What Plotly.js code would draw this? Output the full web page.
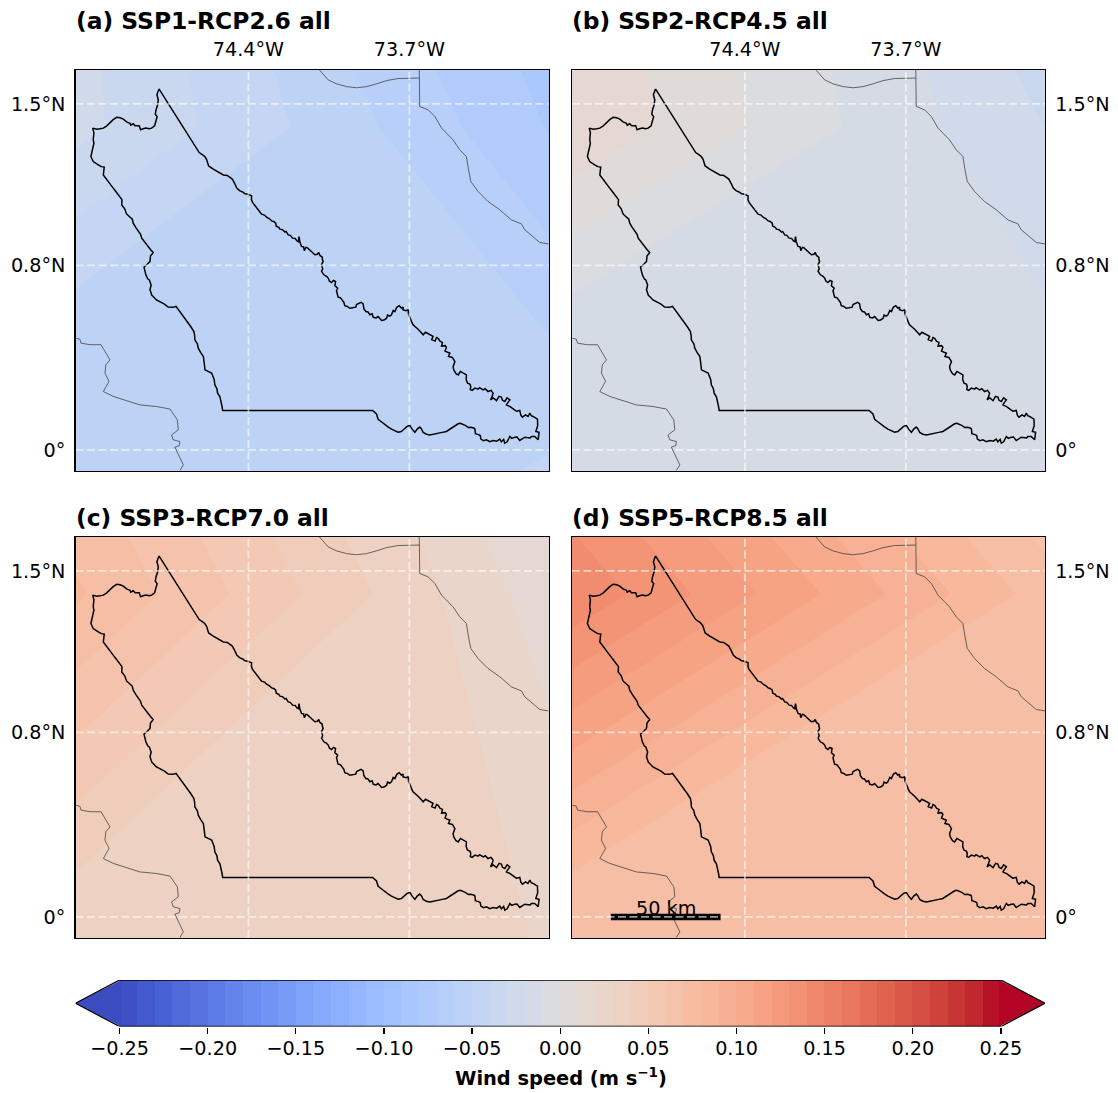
<!DOCTYPE html>
<html>
<head>
<meta charset="utf-8">
<script src="https://cdn.plot.ly/plotly-3.0.1.min.js"></script>
<style>html,body{margin:0;padding:0;background:#fff}#chart{width:1118px;height:1093px}</style>
</head>
<body>
<div id="chart"></div>
<script>
// ---- data ----
const panelTitles = ["(a) SSP1-RCP2.6 all","(b) SSP2-RCP4.5 all","(c) SSP3-RCP7.0 all","(d) SSP5-RCP8.5 all"];

const lonsA = [-75.25,-74.0,-73.09];
const latsA = [-0.2,0.45,1.4,2.4];
const windA = [[-0.0565,-0.0565,-0.0464],[-0.0557,-0.0557,-0.0591],[-0.0244,-0.0554,-0.0807],[-0.0244,-0.0674,-0.0912]];

const lonsB = [-75.25,-73.8,-73.09];
const latsB = [-0.2,0.5,1.4,2.4];
const windB = [[-0.015,-0.015,-0.0165],[-0.0145,-0.0145,-0.0178],[0.0211,-0.0143,-0.0302],[0.019,-0.02,-0.06]];

const lonsC = [-75.25,-73.75,-73.0];
const latsC = [-0.2,0,1.4,2.4];
const windC = [[0.036,0.0375,0.0282],[0.0365,0.0373,0.0274],[0.0847,0.0365,0.0109],[0.0679,0.0215,-0.002]];

const lonsD = [-75.25,-73.0];
const latsD = [-0.2,0,1.4,2.4];
const windD = [[0.072,0.071],[0.0724,0.0715],[0.1519,0.0721],[0.121,0.041]];

const outlinePoints = [
[-74.789,1.565],[-74.614,1.289],[-74.599,1.279],[-74.590,1.272],[-74.582,1.260],[-74.573,1.231],[-74.553,1.217],[-74.531,1.204],[-74.520,1.195],[-74.509,1.192],[-74.492,1.190],[-74.480,1.182],[-74.470,1.174],[-74.459,1.153],
[-74.450,1.134],[-74.437,1.123],[-74.425,1.118],[-74.415,1.110],[-74.400,1.108],[-74.386,1.101],[-74.387,1.085],[-74.382,1.073],[-74.372,1.060],[-74.365,1.048],[-74.356,1.040],[-74.349,1.027],[-74.343,1.022],[-74.330,1.018],[-74.321,1.009],[-74.310,1.003],[-74.299,0.993],[-74.290,0.990],[-74.281,0.983],[-74.279,0.970],[-74.268,0.965],[-74.263,0.957],[-74.252,0.955],[-74.241,0.944],[-74.236,0.947],[-74.227,0.932],[-74.218,0.930],[-74.208,0.918],[-74.197,0.917],[-74.188,0.905],[-74.183,0.903],[-74.180,0.925],[-74.176,0.900],[-74.169,0.882],[-74.160,0.880],[-74.157,0.864],[-74.150,0.878],[-74.144,0.877],[-74.135,0.868],[-74.125,0.860],[-74.118,0.852],[-74.111,0.846],[-74.100,0.848],[-74.094,0.856],[-74.089,0.843],[-74.079,0.836],[-74.078,0.825],[-74.075,0.817],[-74.082,0.803],[-74.077,0.785],[-74.082,0.775],[-74.072,0.759],[-74.060,0.752],[-74.053,0.745],[-74.048,0.732],[-74.039,0.726],[-74.030,0.735],[-74.021,0.730],[-74.024,0.712],[-74.012,0.701],[-74.017,0.690],[-74.010,0.662],[-74.000,0.660],[-73.992,0.648],[-73.985,0.640],[-73.981,0.625],[-73.970,0.622],[-73.959,0.614],[-73.945,0.618],[-73.933,0.619],[-73.930,0.630],[-73.921,0.636],[-73.910,0.640],[-73.901,0.633],[-73.898,0.612],[-73.889,0.600],[-73.880,0.598],[-73.872,0.586],[-73.862,0.590],[-73.857,0.575],[-73.845,0.572],[-73.836,0.578],[-73.828,0.568],[-73.821,0.561],[-73.810,0.563],[-73.799,0.571],[-73.795,0.585],[-73.785,0.580],[-73.778,0.586],[-73.770,0.605],[-73.763,0.600],[-73.755,0.618],[-73.744,0.625],[-73.735,0.615],[-73.727,0.619],[-73.728,0.608],[-73.715,0.603],[-73.705,0.607],[-73.704,0.590],[-73.698,0.571],[-73.690,0.555],[-73.684,0.542],[-73.672,0.533],[-73.662,0.523],[-73.650,0.510],[-73.640,0.499],[-73.630,0.510],[-73.621,0.506],[-73.610,0.500],[-73.597,0.492],[-73.603,0.478],[-73.588,0.472],[-73.582,0.487],[-73.575,0.484],[-73.566,0.470],[-73.556,0.466],[-73.560,0.450],[-73.545,0.452],[-73.539,0.445],[-73.545,0.428],[-73.524,0.419],[-73.530,0.405],[-73.513,0.401],[-73.507,0.388],[-73.502,0.383],[-73.510,0.360],[-73.507,0.347],[-73.497,0.330],[-73.488,0.325],[-73.478,0.340],[-73.469,0.336],[-73.458,0.328],[-73.452,0.325],[-73.453,0.305],[-73.447,0.289],[-73.437,0.285],[-73.433,0.275],[-73.435,0.262],[-73.427,0.258],[-73.415,0.268],[-73.401,0.263],[-73.395,0.270],[-73.379,0.260],[-73.370,0.265],[-73.358,0.253],[-73.345,0.258],[-73.336,0.246],[-73.340,0.232],[-73.347,0.217],[-73.335,0.225],[-73.321,0.214],[-73.310,0.232],[-73.300,0.229],[-73.295,0.215],[-73.285,0.210],[-73.275,0.226],[-73.263,0.217],[-73.272,0.205],[-73.278,0.195],[-73.262,0.188],[-73.249,0.177],[-73.235,0.168],[-73.220,0.171],[-73.215,0.150],[-73.208,0.142],[-73.195,0.152],[-73.184,0.145],[-73.176,0.159],[-73.170,0.148],[-73.162,0.145],[-73.143,0.133],
[-73.142,0.105],[-73.150,0.080],[-73.136,0.076],[-73.140,0.044],[-73.155,0.058],[-73.169,0.058],[-73.175,0.052],[-73.198,0.055],[-73.208,0.050],[-73.220,0.041],[-73.232,0.056],[-73.242,0.055],[-73.255,0.050],[-73.263,0.058],[-73.275,0.035],[-73.285,0.029],[-73.290,0.045],[-73.300,0.035],[-73.307,0.047],[-73.320,0.038],[-73.336,0.041],[-73.350,0.036],[-73.365,0.044],[-73.378,0.040],[-73.389,0.047],[-73.392,0.062],[-73.397,0.065],[-73.413,0.070],[-73.415,0.090],[-73.418,0.094],[-73.432,0.098],[-73.444,0.097],[-73.455,0.105],[-73.466,0.109],[-73.478,0.115],[-73.488,0.113],[-73.500,0.106],[-73.510,0.099],[-73.525,0.088],[-73.539,0.080],[-73.557,0.076],[-73.575,0.073],[-73.593,0.070],[-73.611,0.065],[-73.626,0.068],[-73.640,0.076],[-73.648,0.092],[-73.655,0.099],[-73.666,0.090],[-73.676,0.076],[-73.688,0.090],[-73.698,0.106],[-73.710,0.102],[-73.720,0.094],[-73.735,0.080],[-73.749,0.077],[-73.765,0.083],[-73.778,0.090],[-73.793,0.100],[-73.807,0.109],[-73.822,0.122],[-73.836,0.133],[-73.843,0.156],[-73.860,0.171],
[-74.512,0.171],[-74.515,0.190],[-74.521,0.217],[-74.524,0.230],[-74.534,0.246],[-74.537,0.265],[-74.546,0.282],[-74.549,0.305],[-74.560,0.333],[-74.575,0.340],[-74.589,0.347],[-74.592,0.375],[-74.596,0.405],[-74.608,0.423],[-74.618,0.441],[-74.622,0.460],[-74.633,0.477],[-74.634,0.497],[-74.637,0.513],[-74.651,0.535],[-74.676,0.571],[-74.715,0.622],[-74.730,0.618],[-74.749,0.619],[-74.765,0.632],[-74.785,0.643],[-74.800,0.650],[-74.814,0.665],[-74.820,0.670],[-74.828,0.694],[-74.823,0.715],[-74.831,0.737],[-74.838,0.742],[-74.846,0.759],[-74.854,0.792],[-74.840,0.805],[-74.828,0.817],[-74.826,0.840],[-74.814,0.856],[-74.825,0.868],[-74.835,0.882],[-74.851,0.900],[-74.864,0.918],[-74.869,0.935],[-74.879,0.947],[-74.890,0.965],[-74.901,0.983],[-74.905,1.000],[-74.918,1.012],[-74.930,1.023],[-74.938,1.045],[-74.951,1.062],[-74.950,1.085],[-74.959,1.099],[-74.975,1.118],[-74.988,1.135],[-75.002,1.155],[-75.017,1.174],[-75.031,1.192],[-75.027,1.226],[-75.040,1.228],[-75.053,1.236],[-75.065,1.243],[-75.075,1.250],[-75.085,1.272],[-75.080,1.290],[-75.077,1.312],[-75.072,1.330],[-75.075,1.345],[-75.072,1.375],[-75.077,1.395],[-75.060,1.390],[-75.045,1.392],[-75.031,1.395],[-75.016,1.405],[-75.002,1.419],[-74.988,1.432],[-74.973,1.442],[-74.958,1.440],[-74.944,1.434],[-74.930,1.422],[-74.915,1.416],[-74.912,1.408],[-74.901,1.414],[-74.893,1.405],[-74.875,1.405],[-74.869,1.388],[-74.858,1.392],[-74.846,1.395],[-74.832,1.392],[-74.821,1.395],[-74.808,1.405],[-74.802,1.424],[-74.797,1.445],[-74.805,1.455],[-74.802,1.474],[-74.795,1.495],[-74.792,1.518],[-74.798,1.540],[-74.789,1.565]];

const borderNorthLon = [-74.092,-74.053,-74.017,-73.973,-73.930,-73.886,-73.843,-73.799,-73.749,-73.657];
const borderNorthLat = [1.648,1.604,1.587,1.575,1.570,1.575,1.587,1.601,1.610,1.612];
const borderEastLon = [-73.657,-73.655,-73.618,-73.589,-73.560,-73.539,-73.510,-73.481,-73.452,-73.444,-73.433,-73.401,-73.358,-73.307,-73.256,-73.213,-73.198,-73.155,-73.133,-73.095];
const borderEastLat = [1.648,1.489,1.474,1.445,1.395,1.373,1.344,1.301,1.272,1.221,1.164,1.120,1.077,1.041,0.997,0.980,0.954,0.918,0.899,0.893];
const borderWestLon = [-75.150,-75.133,-75.128,-75.089,-75.041,-75.024,-75.002,-75.020,-75.024,-75.006,-75.031,-74.988,-74.930,-74.872,-74.799,-74.741,-74.709,-74.705,-74.734,-74.727,-74.698,-74.701,-74.720,-74.705,-74.683,-74.698];
const borderWestLat = [0.484,0.480,0.463,0.456,0.456,0.427,0.390,0.369,0.333,0.297,0.253,0.232,0.214,0.195,0.188,0.177,0.130,0.087,0.065,0.044,0.036,0.018,0.012,-0.021,-0.065,-0.089];

const gridLons = [-74.4,-73.7];
const gridLonLabels = ["74.4°W","73.7°W"];
const gridLats = [0,0.8,1.5];
const gridLatLabels = ["0°","0.8°N","1.5°N"];
const lonRange = [-75.152,-73.095];
const latRange = [-0.0915,1.647];
const scaleBarLon = [-74.983,-74.506];
const scaleBarLat = [0,0];
const scaleBarLabel = "50 km";

const cbMids = [-0.245,-0.235,-0.225,-0.215,-0.205,-0.195,-0.185,-0.175,-0.165,-0.155,-0.145,-0.135,-0.125,-0.115,-0.105,-0.095,-0.085,-0.075,-0.065,-0.055,-0.045,-0.035,-0.025,-0.015,-0.005,0.005,0.015,0.025,0.035,0.045,0.055,0.065,0.075,0.085,0.095,0.105,0.115,0.125,0.135,0.145,0.155,0.165,0.175,0.185,0.195,0.205,0.215,0.225,0.235,0.245];
const cbTicks = [-0.25,-0.2,-0.15,-0.1,-0.05,0,0.05,0.1,0.15,0.2,0.25];
const cbTitle = "<b>Wind speed (m s<sup>−1</sup>)</b>";
const vMin = -0.25, vMax = 0.25, vStep = 0.01, extendTip = 0.275;

const coolwarmHex = ["#3b4cc0","#445acc","#4d68d7","#5775e1","#6282ea","#6c8ef1","#779af7","#82a5fb","#8db0fe","#98b9ff","#a3c2ff","#aec9fd","#b8d0f9","#c2d5f4","#ccd9ee","#d5dbe6","#dddddd","#e5d8d1","#ecd3c5","#f1ccb9","#f5c4ad","#f7bba0","#f7b194","#f7a687","#f49a7b","#f18d6f","#ec7f63","#e57058","#de604d","#d55042","#cb3e38","#c0282f","#b40426"];
const coolwarm = coolwarmHex.map((c,i)=>[i/(coolwarmHex.length-1),c]);

// ---- figure ----
const W = 1118, H = 1093, FONT = "DejaVu Sans", TICK = 19.2;
const xDom = a => [a[0]/W, a[1]/W];
const yDom = a => [1-a[1]/H, 1-a[0]/H];
const colsPx = [[75.5,548.5],[572,1045]];
const rowsPx = [[70,471],[537,938]];
const titleY = [21,518];
const frame = {showline:true, mirror:true, linecolor:"#000", linewidth:1.3, zeroline:false, showgrid:false,
  ticks:"outside", tickcolor:"rgba(0,0,0,0)", tickfont:{family:FONT,size:TICK,color:"#000"}};

const layout = {width:W, height:H, margin:{l:0,r:0,t:0,b:0}, paper_bgcolor:"#fff", plot_bgcolor:"#fff",
  showlegend:false, font:{family:FONT,color:"#000"}, annotations:[]};
const traces = [];
const fields = [[lonsA,latsA,windA],[lonsB,latsB,windB],[lonsC,latsC,windC],[lonsD,latsD,windD]];
const outlineLon = outlinePoints.map(p=>p[0]), outlineLat = outlinePoints.map(p=>p[1]);

fields.forEach((f,i)=>{
  const n = i+1, col = i%2, row = i<2?0:1;
  const xa = n===1?"x":"x"+n, ya = n===1?"y":"y"+n;
  layout["xaxis"+n] = Object.assign({}, frame, {domain:xDom(colsPx[col]), range:lonRange, anchor:ya, side:"top",
    tickvals:gridLons, ticktext:gridLonLabels, showticklabels:row===0, ticklen:row===0?5:0});
  layout["yaxis"+n] = Object.assign({}, frame, {domain:yDom(rowsPx[row]), range:latRange, anchor:xa, side:col===0?"left":"right",
    tickvals:gridLats, ticktext:gridLatLabels, ticklen:5});
  traces.push({type:"contour", x:f[0], y:f[1], z:f[2], xaxis:xa, yaxis:ya, colorscale:coolwarm, showscale:false,
    autocontour:false, contours:{start:vMin,end:vMax,size:vStep,coloring:"fill",showlines:false},
    line:{width:0,smoothing:0}, hoverinfo:"skip"});
  [[borderNorthLon,borderNorthLat],[borderEastLon,borderEastLat],[borderWestLon,borderWestLat]].forEach(b=>{
    traces.push({type:"scatter",mode:"lines",x:b[0],y:b[1],xaxis:xa,yaxis:ya,line:{color:"#444",width:0.8},hoverinfo:"skip"});
  });
  traces.push({type:"scatter",mode:"lines",x:outlineLon,y:outlineLat,xaxis:xa,yaxis:ya,line:{color:"#000",width:1.5},hoverinfo:"skip"});
  if(n===4){
    traces.push({type:"scatter",mode:"lines",x:scaleBarLon,y:scaleBarLat,xaxis:xa,yaxis:ya,line:{color:"#000",width:6.5},hoverinfo:"skip"});
    layout.annotations.push({xref:xa,yref:ya,x:(scaleBarLon[0]+scaleBarLon[1])/2,y:scaleBarLat[0],yshift:-5,text:scaleBarLabel,showarrow:false,
      xanchor:"center",yanchor:"bottom",font:{family:FONT,size:TICK,color:"#000"}});
  }
  const gx=[],gy=[];
  gridLons.forEach(v=>{gx.push(v,v,null);gy.push(latRange[0],latRange[1],null);});
  gridLats.forEach(v=>{gx.push(lonRange[0],lonRange[1],null);gy.push(v,v,null);});
  traces.push({type:"scatter",mode:"lines",x:gx,y:gy,xaxis:xa,yaxis:ya,line:{color:"rgba(255,255,255,0.6)",width:1.8,dash:"8px,3.5px"},hoverinfo:"skip"});
  layout.annotations.push({xref:"paper",yref:"paper",x:colsPx[col][0]/W,y:1-titleY[row]/H,text:"<b>"+panelTitles[i]+"</b>",showarrow:false,
    xanchor:"left",yanchor:"middle",xshift:-2,font:{family:FONT,size:23.4,color:"#000"}});
});

// colour bar
layout.xaxis5 = {domain:xDom([75.5,1045]), range:[-extendTip,extendTip], anchor:"y5", showgrid:false, zeroline:false, showline:false,
  tickvals:cbTicks, tickformat:".2f", ticks:"outside", ticklen:6, tickwidth:1.3, tickcolor:"#000", ticklabelstandoff:-2,
  tickfont:{family:FONT,size:TICK,color:"#000"}};
layout.yaxis5 = {domain:yDom([980,1026.5]), range:[-0.5,0.5], anchor:"x5", visible:false, fixedrange:true};
layout.annotations.push({xref:"paper",yref:"paper",x:560.5/W,y:1-1077/H,text:cbTitle,showarrow:false,xanchor:"center",yanchor:"middle",
  font:{family:FONT,size:19.4,color:"#000"}});
traces.push({type:"heatmap",x:cbMids,y:[0],z:[cbMids],xaxis:"x5",yaxis:"y5",colorscale:coolwarm,zmin:vMin,zmax:vMax,showscale:false,hoverinfo:"skip"});
traces.push({type:"scatter",mode:"lines",x:[vMin+0.001,-extendTip,vMin+0.001,vMin+0.001],y:[-0.5,0,0.5,-0.5],fill:"toself",fillcolor:coolwarmHex[0],line:{width:0},xaxis:"x5",yaxis:"y5",hoverinfo:"skip"});
traces.push({type:"scatter",mode:"lines",x:[vMax-0.001,extendTip,vMax-0.001,vMax-0.001],y:[-0.5,0,0.5,-0.5],fill:"toself",fillcolor:coolwarmHex[coolwarmHex.length-1],line:{width:0},xaxis:"x5",yaxis:"y5",hoverinfo:"skip"});
traces.push({type:"scatter",mode:"lines",x:[vMin,-extendTip,vMin,vMax,extendTip,vMax,vMin],y:[-0.5,0,0.5,0.5,0,-0.5,-0.5],line:{color:"#000",width:1.3},xaxis:"x5",yaxis:"y5",hoverinfo:"skip",cliponaxis:false});

Plotly.newPlot("chart",traces,layout,{displayModeBar:false,staticPlot:true});
</script>
</body>
</html>
